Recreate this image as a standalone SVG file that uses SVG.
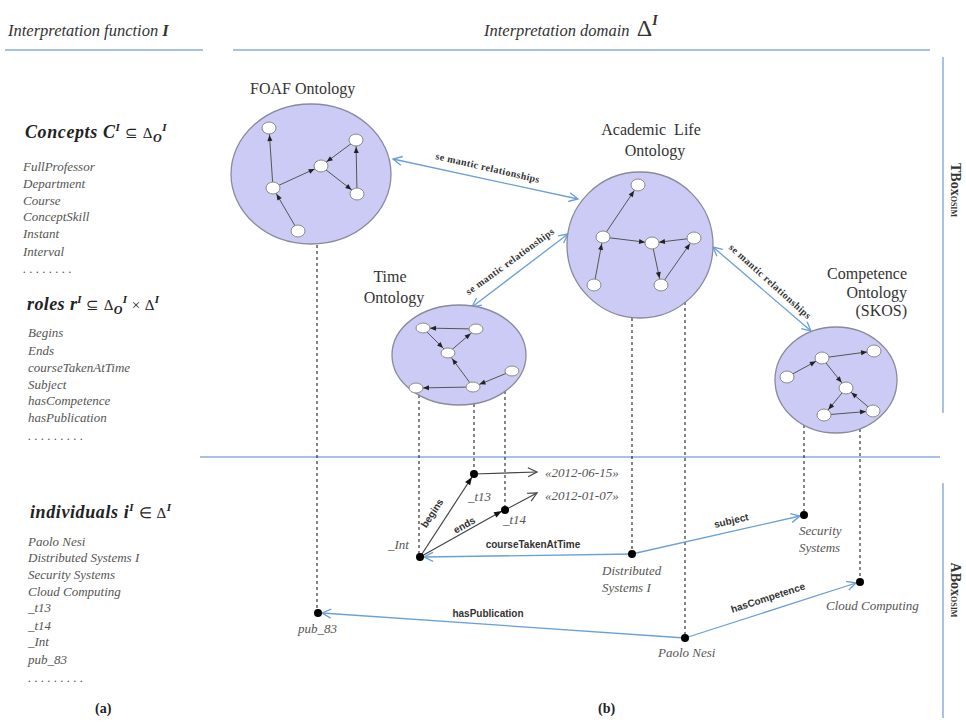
<svg xmlns="http://www.w3.org/2000/svg" width="966" height="723" viewBox="0 0 966 723">
<style>
.hdr{font-family:"Liberation Serif",serif;font-style:italic;font-size:16.5px;fill:#333}
.hd{font-family:"Liberation Serif",serif;font-weight:bold;font-style:italic;font-size:18px;fill:#222}
.op{font-weight:normal;font-style:normal;font-size:15px}
.sup{font-size:11px}
.sub{font-size:12px}
.li{font-family:"Liberation Serif",serif;font-style:italic;font-size:13px;fill:#555}
.ttl{font-family:"Liberation Serif",serif;font-size:16px;fill:#333}
.sem{font-family:"Liberation Serif",serif;font-weight:bold;font-size:10px;fill:#333;letter-spacing:0.4px}
.lbl{font-family:"Liberation Sans",sans-serif;font-weight:bold;font-size:10px;fill:#333}
.ab{font-family:"Liberation Serif",serif;font-style:italic;font-size:13px;fill:#555}
.side{font-family:"Liberation Serif",serif;font-weight:bold;font-size:14px;fill:#333}
.onto{fill:#cbcbf5;stroke:#8a8a9c;stroke-width:1.3}
.nd{fill:#fff;stroke:#8a8a8a;stroke-width:1}
.ge{stroke:#555;stroke-width:1;fill:none;marker-end:url(#ga)}
.blue{stroke:#6a9fd8;stroke-width:1.3;fill:none}
.dash{stroke:#222;stroke-dasharray:3 3;stroke-width:1.1;fill:none}
.rule{stroke:#a7c2e5;stroke-width:2;fill:none}
.dk{stroke:#444;stroke-width:1.2;fill:none}
.dot{fill:#000}
</style>
<defs>
<marker id="ga" markerUnits="userSpaceOnUse" markerWidth="14" markerHeight="6" refX="13" refY="2.5" orient="auto" overflow="visible"><path d="M0,0 L6,2.5 L0,5 z" fill="#222"/></marker>
<marker id="ba" markerUnits="userSpaceOnUse" markerWidth="10" markerHeight="10" refX="9" refY="4.5" orient="auto-start-reverse" overflow="visible"><path d="M0,0 L9,4.5 L0,9" fill="none" stroke="#6a9fd8" stroke-width="1.3"/></marker>
<marker id="oa" markerUnits="userSpaceOnUse" markerWidth="10" markerHeight="10" refX="9" refY="4.5" orient="auto" overflow="visible"><path d="M0,0 L9,4.5 L0,9" fill="none" stroke="#444" stroke-width="1.2"/></marker>
<marker id="fa" markerUnits="userSpaceOnUse" markerWidth="10" markerHeight="8" refX="8" refY="3" orient="auto" overflow="visible"><path d="M0,0 L8,3 L0,6 z" fill="#111"/></marker>
</defs>
<rect width="966" height="723" fill="#fff"/>

<g id="frame">
<line class="rule" x1="5" y1="50" x2="203" y2="50"/>
<line class="rule" x1="233" y1="50" x2="930" y2="50"/>
<line class="rule" x1="200" y1="457" x2="940" y2="457" stroke-width="1.5"/>
<line class="rule" x1="943" y1="57" x2="943" y2="413"/>
<line class="rule" x1="943" y1="483" x2="943" y2="718"/>
<text class="hdr" x="8" y="36">Interpretation function <tspan font-weight="bold">I</tspan></text>
<text class="hdr" x="484" y="36">Interpretation domain <tspan font-style="normal" font-size="24" dx="3">Δ</tspan><tspan font-weight="bold" font-size="14" dy="-11">I</tspan></text>
<text class="side" transform="translate(951,190) rotate(90)" text-anchor="middle">TBox<tspan font-size="8">OSIM</tspan></text>
<text class="side" transform="translate(951,590) rotate(90)" text-anchor="middle">ABox<tspan font-size="8">OSIM</tspan></text>
</g>

<g id="legend">
<text class="hd" x="25" y="138" letter-spacing="0.6">Concepts C<tspan class="sup" dy="-7">I</tspan><tspan class="op" dy="7"> ⊆ Δ</tspan><tspan class="sub" dy="4">O</tspan><tspan class="sup" dy="-11">I</tspan></text>
<text class="li" x="23" y="171">FullProfessor</text>
<text class="li" x="23" y="188">Department</text>
<text class="li" x="23" y="205">Course</text>
<text class="li" x="23" y="221">ConceptSkill</text>
<text class="li" x="23" y="238">Instant</text>
<text class="li" x="23" y="256">Interval</text>
<text class="li" x="23" y="273" font-size="9">. . . . . . . .</text>
<text class="hd" x="27" y="310" letter-spacing="0.4">roles r<tspan class="sup" dy="-7">I</tspan><tspan class="op" dy="7"> ⊆ Δ</tspan><tspan class="sub" dy="4">O</tspan><tspan class="sup" dy="-11">I</tspan><tspan class="op" dy="7"> × Δ</tspan><tspan class="sup" dy="-7">I</tspan></text>
<text class="li" x="28" y="337">Begins</text>
<text class="li" x="28" y="355">Ends</text>
<text class="li" x="28" y="372">courseTakenAtTime</text>
<text class="li" x="28" y="389">Subject</text>
<text class="li" x="28" y="405">hasCompetence</text>
<text class="li" x="28" y="422">hasPublication</text>
<text class="li" x="28" y="440" font-size="9">. . . . . . . . .</text>
<text class="hd" x="30" y="518" letter-spacing="0.6">individuals i<tspan class="sup" dy="-7">I</tspan><tspan class="op" dy="7"> ∈ Δ</tspan><tspan class="sup" dy="-7">I</tspan></text>
<text class="li" x="28" y="546">Paolo Nesi</text>
<text class="li" x="28" y="562">Distributed Systems I</text>
<text class="li" x="28" y="579">Security Systems</text>
<text class="li" x="28" y="596">Cloud Computing</text>
<text class="li" x="28" y="612">_t13</text>
<text class="li" x="28" y="630">_t14</text>
<text class="li" x="28" y="646">_Int</text>
<text class="li" x="28" y="664">pub_83</text>
<text class="li" x="28" y="682" font-size="9">. . . . . . . . .</text>
<text x="95" y="713" font-family="Liberation Serif, serif" font-weight="bold" font-size="14" fill="#222">(a)</text>
<text x="598" y="713" font-family="Liberation Serif, serif" font-weight="bold" font-size="14" fill="#222">(b)</text>
</g>

<g id="connectors">
<line class="dash" x1="317" y1="245" x2="317" y2="613"/>
<line class="dash" x1="419" y1="395" x2="419" y2="557"/>
<line class="dash" x1="474" y1="404" x2="474" y2="474"/>
<line class="dash" x1="505" y1="391" x2="505" y2="510"/>
<line class="dash" x1="632" y1="318" x2="632" y2="554"/>
<line class="dash" x1="685" y1="302" x2="685" y2="638"/>
<line class="dash" x1="804" y1="425" x2="804" y2="515"/>
<line class="dash" x1="860" y1="429" x2="860" y2="582"/>

<g id="sem1"><line class="blue" x1="393" y1="159" x2="578" y2="199" marker-start="url(#ba)" marker-end="url(#ba)"/>
<text class="sem" text-anchor="middle" transform="translate(487,171) rotate(13)">se mantic relationships</text></g>
<g id="sem2"><line class="blue" x1="472" y1="307" x2="568" y2="234" marker-start="url(#ba)" marker-end="url(#ba)"/>
<text class="sem" text-anchor="middle" transform="translate(512,264) rotate(-36)">se mantic relationships</text></g>
<g id="sem3"><line class="blue" x1="713" y1="247" x2="811" y2="331" marker-start="url(#ba)" marker-end="url(#ba)"/>
<text class="sem" text-anchor="middle" transform="translate(768,284) rotate(42)">se mantic relationships</text></g>

<line class="dk" x1="474" y1="474" x2="537" y2="472" marker-end="url(#oa)"/>
<line class="dk" x1="505" y1="510" x2="537" y2="493" marker-end="url(#oa)"/>
<line class="dk" x1="420" y1="557" x2="472" y2="477" marker-end="url(#fa)"/>
<line class="dk" x1="420" y1="557" x2="502" y2="511" marker-end="url(#fa)"/>
<text class="lbl" text-anchor="middle" transform="translate(435,515) rotate(-57)">begins</text>
<text class="lbl" text-anchor="middle" transform="translate(466,528) rotate(-29)">ends</text>

<line class="blue" x1="632" y1="554" x2="424" y2="557" marker-end="url(#ba)"/>
<text class="lbl" text-anchor="middle" x="533" y="548">courseTakenAtTime</text>
<line class="blue" x1="632" y1="554" x2="800" y2="516" marker-end="url(#ba)"/>
<text class="lbl" text-anchor="middle" transform="translate(732,524) rotate(-13)">subject</text>
<line class="blue" x1="685" y1="638" x2="856" y2="583" marker-end="url(#ba)"/>
<text class="lbl" text-anchor="middle" transform="translate(769,601) rotate(-18)">hasCompetence</text>
<line class="blue" x1="685" y1="638" x2="322" y2="613" marker-end="url(#ba)"/>
<text class="lbl" text-anchor="middle" x="488" y="617">hasPublication</text>
</g>

<g id="foaf">
<ellipse class="onto" cx="311" cy="174" rx="80" ry="70"/>
<text class="ttl" x="250" y="94">FOAF Ontology</text>
<line class="ge" x1="273" y1="188" x2="269" y2="128"/>
<line class="ge" x1="273" y1="188" x2="321" y2="166"/>
<line class="ge" x1="356" y1="140" x2="321" y2="166"/>
<line class="ge" x1="321" y1="166" x2="357" y2="194"/>
<line class="ge" x1="357" y1="194" x2="356" y2="140"/>
<line class="ge" x1="298" y1="231" x2="273" y2="188"/>
<ellipse class="nd" cx="269" cy="128" rx="7" ry="6"/>
<ellipse class="nd" cx="356" cy="140" rx="7" ry="6"/>
<ellipse class="nd" cx="321" cy="166" rx="7" ry="6"/>
<ellipse class="nd" cx="273" cy="188" rx="7" ry="6"/>
<ellipse class="nd" cx="357" cy="194" rx="7" ry="6"/>
<ellipse class="nd" cx="298" cy="231" rx="7" ry="6"/>
</g>

<g id="academic">
<circle class="onto" cx="640" cy="245" r="73"/>
<text class="ttl" x="651" y="135" text-anchor="middle" xml:space="preserve">Academic  Life</text>
<text class="ttl" x="655" y="156" text-anchor="middle">Ontology</text>
<line class="ge" x1="603" y1="237" x2="638" y2="185"/>
<line class="ge" x1="603" y1="237" x2="652" y2="243"/>
<line class="ge" x1="694" y1="238" x2="652" y2="243"/>
<line class="ge" x1="652" y1="243" x2="661" y2="285"/>
<line class="ge" x1="661" y1="285" x2="694" y2="238"/>
<line class="ge" x1="594" y1="285" x2="603" y2="237"/>
<ellipse class="nd" cx="638" cy="185" rx="7" ry="6"/>
<ellipse class="nd" cx="603" cy="237" rx="7" ry="6"/>
<ellipse class="nd" cx="652" cy="243" rx="7" ry="6"/>
<ellipse class="nd" cx="694" cy="238" rx="7" ry="6"/>
<ellipse class="nd" cx="594" cy="285" rx="7" ry="6"/>
<ellipse class="nd" cx="661" cy="285" rx="7" ry="6"/>
</g>

<g id="time">
<ellipse class="onto" cx="459" cy="355" rx="67" ry="50"/>
<text class="ttl" x="390" y="282" text-anchor="middle">Time</text>
<text class="ttl" x="394" y="303" text-anchor="middle">Ontology</text>
<line class="ge" x1="476" y1="329" x2="423" y2="328"/>
<line class="ge" x1="423" y1="328" x2="448" y2="353"/>
<line class="ge" x1="448" y1="353" x2="476" y2="329"/>
<line class="ge" x1="473" y1="387" x2="448" y2="353"/>
<line class="ge" x1="512" y1="371" x2="473" y2="387"/>
<line class="ge" x1="473" y1="387" x2="416" y2="388"/>
<ellipse class="nd" cx="423" cy="328" rx="7" ry="5"/>
<ellipse class="nd" cx="476" cy="329" rx="7" ry="5"/>
<ellipse class="nd" cx="448" cy="353" rx="7" ry="5"/>
<ellipse class="nd" cx="512" cy="371" rx="7" ry="5"/>
<ellipse class="nd" cx="473" cy="387" rx="7" ry="5"/>
<ellipse class="nd" cx="416" cy="388" rx="7" ry="5"/>
</g>

<g id="competence">
<ellipse class="onto" cx="836" cy="380" rx="61" ry="53"/>
<text class="ttl" x="907" y="279" text-anchor="end">Competence</text>
<text class="ttl" x="907" y="298" text-anchor="end">Ontology</text>
<text class="ttl" x="907" y="316" text-anchor="end">(SKOS)</text>
<line class="ge" x1="787" y1="377" x2="822" y2="358"/>
<line class="ge" x1="822" y1="358" x2="874" y2="351"/>
<line class="ge" x1="822" y1="358" x2="846" y2="388"/>
<line class="ge" x1="873" y1="411" x2="846" y2="388"/>
<line class="ge" x1="846" y1="388" x2="824" y2="415"/>
<line class="ge" x1="824" y1="415" x2="873" y2="411"/>
<ellipse class="nd" cx="787" cy="377" rx="7" ry="6"/>
<ellipse class="nd" cx="822" cy="358" rx="7" ry="6"/>
<ellipse class="nd" cx="874" cy="351" rx="7" ry="6"/>
<ellipse class="nd" cx="846" cy="388" rx="7" ry="6"/>
<ellipse class="nd" cx="824" cy="415" rx="7" ry="6"/>
<ellipse class="nd" cx="873" cy="411" rx="7" ry="6"/>
</g>

<g id="t13"><circle class="dot" cx="474" cy="474" r="4"/><text class="ab" x="468" y="501">_t13</text></g>
<g id="t14"><circle class="dot" cx="505" cy="510" r="4"/><text class="ab" x="503" y="524">_t14</text></g>
<g id="date1"><text class="ab" x="545" y="477" font-size="12">«2012-06-15»</text></g>
<g id="date2"><text class="ab" x="545" y="500" font-size="12">«2012-01-07»</text></g>
<g id="int"><circle class="dot" cx="420" cy="557" r="4"/><text class="ab" x="388" y="549">_Int</text></g>
<g id="distributed"><circle class="dot" cx="632" cy="554" r="4"/><text class="ab" x="602" y="575">Distributed</text><text class="ab" x="602" y="592">Systems I</text></g>
<g id="security"><circle class="dot" cx="804" cy="515" r="4"/><text class="ab" x="799" y="535">Security</text><text class="ab" x="799" y="552">Systems</text></g>
<g id="cloud"><circle class="dot" cx="860" cy="582" r="4"/><text class="ab" x="826" y="610">Cloud Computing</text></g>
<g id="paolo"><circle class="dot" cx="685" cy="638" r="4"/><text class="ab" x="658" y="657">Paolo Nesi</text></g>
<g id="pub83"><circle class="dot" cx="318" cy="613" r="4"/><text class="ab" x="298" y="633">pub_83</text></g>
</svg>
